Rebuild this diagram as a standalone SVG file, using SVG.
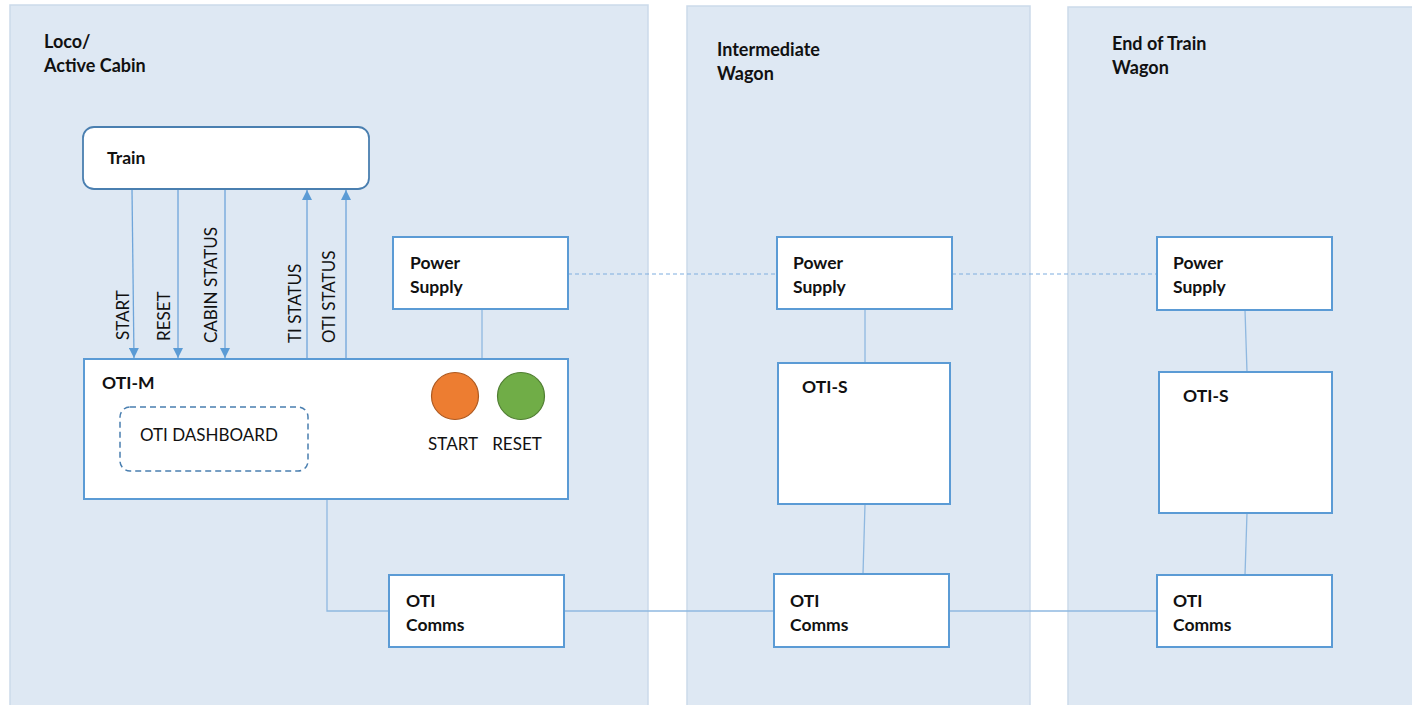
<svg xmlns="http://www.w3.org/2000/svg" width="1412" height="705" viewBox="0 0 1412 705">
  <style>
    .zone { fill: #dee8f3; stroke: #cbdaea; stroke-width: 1.5; }
    .box { fill: #ffffff; stroke: #5b9bd5; stroke-width: 2; }
    .title { font-family: Lato, "Liberation Sans", sans-serif; font-weight: bold; font-size: 18px; fill: #111111; }
    .lbl { font-family: Lato, "Liberation Sans", sans-serif; font-weight: bold; font-size: 17.5px; fill: #111111; }
    .sig { font-family: Lato, "Liberation Sans", sans-serif; font-size: 17px; fill: #111111; }
    .wire { stroke: #8fb8e0; stroke-width: 1.3; fill: none; }
    .arrow { stroke: #6fa5da; stroke-width: 1.3; fill: none; }
    .dash { stroke: #7eaee0; stroke-width: 1.2; stroke-dasharray: 4 3; fill: none; }
  </style>
  <defs>
    <marker id="head" viewBox="0 0 10 10" refX="10" refY="5" markerWidth="10" markerHeight="10" markerUnits="userSpaceOnUse" orient="auto">
      <path d="M0,0 L10,5 L0,10 z" fill="#5b9bd5"/>
    </marker>
  </defs>

  <rect width="1412" height="705" fill="#ffffff"/>

  <!-- vehicle zones -->
  <g id="zone-loco">
    <rect class="zone" x="10" y="5" width="638" height="710"/>
    <text class="title" x="44" y="48">Loco/</text>
    <text class="title" x="44" y="72">Active Cabin</text>
  </g>
  <g id="zone-intermediate">
    <rect class="zone" x="687" y="6" width="343" height="710"/>
    <text class="title" x="717" y="56">Intermediate</text>
    <text class="title" x="717" y="80">Wagon</text>
  </g>
  <g id="zone-end">
    <rect class="zone" x="1068" y="7" width="360" height="710"/>
    <text class="title" x="1112" y="50">End of Train</text>
    <text class="title" x="1112" y="74">Wagon</text>
  </g>

  <!-- connectors -->
  <g id="connectors">
    <line class="arrow" x1="132" y1="189" x2="134" y2="358" marker-end="url(#head)"/>
    <line class="arrow" x1="178" y1="189" x2="178" y2="358" marker-end="url(#head)"/>
    <line class="arrow" x1="225" y1="189" x2="225" y2="358" marker-end="url(#head)"/>
    <line class="arrow" x1="307" y1="359" x2="307" y2="190" marker-end="url(#head)"/>
    <line class="arrow" x1="346" y1="359" x2="346" y2="190" marker-end="url(#head)"/>
    <line class="wire" x1="482" y1="309" x2="482" y2="359"/>
    <polyline class="wire" points="327,499 327,611 389,611"/>
    <line class="wire" x1="564" y1="611" x2="774" y2="611"/>
    <line class="wire" x1="949" y1="611" x2="1157" y2="611"/>
    <line class="dash" x1="568" y1="274" x2="777" y2="274"/>
    <line class="dash" x1="952" y1="274" x2="1157" y2="274"/>
    <line class="wire" x1="865" y1="309" x2="865" y2="363"/>
    <line class="wire" x1="865" y1="504" x2="863" y2="574"/>
    <line class="wire" x1="1245" y1="310" x2="1247" y2="372"/>
    <line class="wire" x1="1247" y1="513" x2="1245" y2="575"/>
  </g>

  <!-- signal labels -->
  <g id="signal-labels">
    <text class="sig" transform="translate(129,340) rotate(-90)">START</text>
    <text class="sig" transform="translate(170,341) rotate(-90)">RESET</text>
    <text class="sig" transform="translate(217,343) rotate(-90)">CABIN STATUS</text>
    <text class="sig" transform="translate(301,343) rotate(-90)">TI STATUS</text>
    <text class="sig" transform="translate(335,343) rotate(-90)">OTI STATUS</text>
  </g>

  <!-- loco / active cabin -->
  <g id="train">
    <rect x="83" y="127" width="286" height="62" rx="11" fill="#ffffff" stroke="#4a7fb0" stroke-width="1.8"/>
    <text class="lbl" x="107" y="164">Train</text>
  </g>
  <g id="oti-m">
    <rect class="box" x="84" y="359" width="484" height="140"/>
    <text class="lbl" x="102" y="389">OTI-M</text>
  </g>
  <g id="oti-dashboard">
    <rect x="120" y="407" width="188" height="64" rx="10" fill="none" stroke="#4a7fb0" stroke-width="1.5" stroke-dasharray="6 4"/>
    <text class="sig" x="140" y="441">OTI DASHBOARD</text>
  </g>
  <g id="start-button">
    <circle cx="455" cy="396" r="23.5" fill="#ed7d31" stroke="#ae5a21" stroke-width="1.2"/>
    <text class="sig" x="453" y="450" text-anchor="middle">START</text>
  </g>
  <g id="reset-button">
    <circle cx="521" cy="396" r="23.5" fill="#70ad47" stroke="#507e32" stroke-width="1.2"/>
    <text class="sig" x="517" y="450" text-anchor="middle">RESET</text>
  </g>
  <g id="power-supply-loco">
    <rect class="box" x="393" y="237" width="175" height="72"/>
    <text class="lbl" x="410" y="269">Power</text>
    <text class="lbl" x="410" y="293">Supply</text>
  </g>
  <g id="oti-comms-loco">
    <rect class="box" x="389" y="575" width="175" height="72"/>
    <text class="lbl" x="406" y="607">OTI</text>
    <text class="lbl" x="406" y="631">Comms</text>
  </g>

  <!-- intermediate wagon -->
  <g id="power-supply-intermediate">
    <rect class="box" x="777" y="237" width="175" height="72"/>
    <text class="lbl" x="793" y="269">Power</text>
    <text class="lbl" x="793" y="293">Supply</text>
  </g>
  <g id="oti-s-intermediate">
    <rect class="box" x="778" y="363" width="172" height="141"/>
    <text class="lbl" x="802" y="393">OTI-S</text>
  </g>
  <g id="oti-comms-intermediate">
    <rect class="box" x="774" y="574" width="175" height="73"/>
    <text class="lbl" x="790" y="607">OTI</text>
    <text class="lbl" x="790" y="631">Comms</text>
  </g>

  <!-- end of train wagon -->
  <g id="power-supply-end">
    <rect class="box" x="1157" y="237" width="175" height="73"/>
    <text class="lbl" x="1173" y="269">Power</text>
    <text class="lbl" x="1173" y="293">Supply</text>
  </g>
  <g id="oti-s-end">
    <rect class="box" x="1159" y="372" width="173" height="141"/>
    <text class="lbl" x="1183" y="402">OTI-S</text>
  </g>
  <g id="oti-comms-end">
    <rect class="box" x="1157" y="575" width="175" height="72"/>
    <text class="lbl" x="1173" y="607">OTI</text>
    <text class="lbl" x="1173" y="631">Comms</text>
  </g>
</svg>
